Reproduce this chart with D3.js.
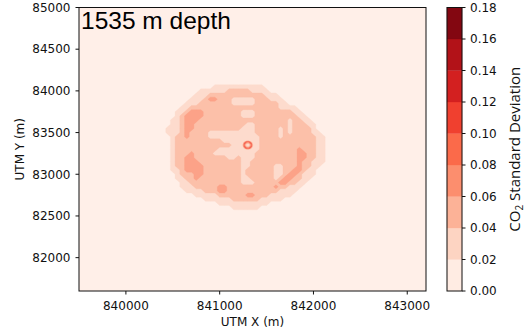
<!DOCTYPE html>
<html>
<head>
<meta charset="utf-8">
<script src="https://cdn.jsdelivr.net/npm/d3@7"></script>
<style>
  body { margin: 0; background: #fff; }
  svg { display: block; }
</style>
</head>
<body>
<svg id="chart" width="526" height="330"></svg>
<script>
// ---- data ---------------------------------------------------------------
const titleText = "1535 m depth";
const xLabel = "UTM X (m)";
const yLabel = "UTM Y (m)";
const xDomain = [839500, 843200];
const yDomain = [81600, 85000];
const xTicks = [840000, 841000, 842000, 843000];
const yTicks = [82000, 82500, 83000, 83500, 84000, 84500, 85000];
const levels = [0, 0.02, 0.04, 0.06, 0.08, 0.10, 0.12, 0.14, 0.16, 0.18];

// CO2 standard deviation on a 50 m grid; each digit is the value in hundredths.
// Rows run north to south starting at plumeOrigin (x of first column, y of first row).
const gridStep = 50;
const backgroundStd = 0.01;
const plumeOrigin = [840400, 84100];
const plumeRows = [
  "1111111111111111111111111111111111111",
  "1111111111133333333333111111111111111",
  "1111111133333355555333311111111111111",
  "1111111333555555555555333111111111111",
  "1111113335775553333355533311111111111",
  "1111133355555553333355555331111111111",
  "1111335555555555555555555333311111111",
  "1113357775555555533355555555331111111",
  "1113577775555555533355555555533111111",
  "1133577755555555555555555553553311111",
  "1133577555555555553355555553555331111",
  "1333577555555555533355555353555531111",
  "1333575555333333333355555353555533111",
  "1135575555333333333335555355555553311",
  "1135555555555333333335555555555553311",
  "1135555555555553333335555555555553311",
  "1135555555553333333335555555575553311",
  "1135557555533333333355555555577553311",
  "1135577555555533533355555555577553311",
  "1135577755555555533555555555575533311",
  "1135577775555555533555553355575533111",
  "1133577775555555535555553355775331111",
  "1113555775555555535555553357753331111",
  "1113355755555555533555553577553311111",
  "1111335555555555533355555775533111111",
  "1111333555557755555555557553331111111",
  "1111133335557755555555555333311111111",
  "1111111333335555557755533333111111111",
  "1111111113333335555553333311111111111",
  "1111111111113333333333311111111111111",
  "1111111111111113333331111111111111111",
  "1111111111111111111111111111111111111"
];

// Finer 10 m sampling around the injection well (values in hundredths).
const wellCenter = [841300, 83350];
const wellStep = 10;
const wellGrid = [
  [3,3,3,3,3,3,3,3,3,3,3,3,3],
  [3,3,3,4,4,6,6,6,4,4,3,3,3],
  [3,3,4,6,11,11,11,11,11,6,4,3,3],
  [3,4,6,11,11,8,8,8,11,11,6,4,3],
  [3,4,11,11,8,5,5,5,8,11,11,4,3],
  [3,6,11,8,5,3,3,3,5,8,11,6,3],
  [3,6,11,8,5,3,3,3,5,8,11,6,3],
  [3,6,11,8,5,3,3,3,5,8,11,6,3],
  [3,4,11,11,8,5,5,5,8,11,11,4,3],
  [3,4,6,11,11,8,8,8,11,11,6,4,3],
  [3,3,4,6,11,11,11,11,11,6,4,3,3],
  [3,3,3,4,4,6,6,6,4,4,3,3,3],
  [3,3,3,3,3,3,3,3,3,3,3,3,3]
];

// matplotlib "Reds" colour map stops
const redsStops = ["#fff5f0","#fee0d2","#fcbba1","#fc9272","#fb6a4a","#ef3b2c","#cb181d","#a50f15","#67000d"];
const fieldAlpha = 0.82;

// ---- layout ---------------------------------------------------------------
const plot = { left: 79, right: 426, top: 7.5, bottom: 291 };
const cbar = { left: 447, right: 462 };

const svg = d3.select("#chart");
const x = d3.scaleLinear().domain(xDomain).range([plot.left, plot.right]);
const y = d3.scaleLinear().domain(yDomain).range([plot.bottom, plot.top]);
const cy = d3.scaleLinear().domain([levels[0], levels[levels.length - 1]]).range([plot.bottom, plot.top]);

const redsInterp = d3.piecewise(d3.interpolateRgb, redsStops);
const nBands = levels.length - 1;
const bandColor = i => redsInterp((i + 0.5) / nBands);

// ---- field grid -----------------------------------------------------------
const nx = Math.round((xDomain[1] - xDomain[0]) / gridStep) + 1;
const ny = Math.round((yDomain[1] - yDomain[0]) / gridStep) + 1;
const field = new Array(nx * ny).fill(backgroundStd);
const colOff = Math.round((plumeOrigin[0] - xDomain[0]) / gridStep);
const rowOff = Math.round((yDomain[1] - plumeOrigin[1]) / gridStep);
plumeRows.forEach((row, r) => {
  for (let c = 0; c < row.length; c++) {
    field[(r + rowOff) * nx + c + colOff] = +row[c] * 0.01;
  }
});

const fieldProj = d3.geoTransform({
  point(gx, gy) {
    this.stream.point(x(xDomain[0] + (gx - 0.5) * gridStep), y(yDomain[1] - (gy - 0.5) * gridStep));
  }
});
const fieldPath = d3.geoPath(fieldProj);

const fieldContours = d3.contours()
  .size([nx, ny])
  .thresholds(levels.slice(0, -1))(field);

svg.append("defs").append("clipPath").attr("id", "plotClip")
  .append("rect")
  .attr("x", plot.left).attr("y", plot.top)
  .attr("width", plot.right - plot.left).attr("height", plot.bottom - plot.top);

const gPlot = svg.append("g")
  .attr("clip-path", "url(#plotClip)")
  .attr("opacity", fieldAlpha);
gPlot.selectAll("path.field")
  .data(fieldContours)
  .join("path")
  .attr("class", "field")
  .attr("d", fieldPath)
  .attr("fill", d => bandColor(levels.indexOf(d.value)))
  .attr("stroke", d => bandColor(levels.indexOf(d.value)))
  .attr("stroke-width", 0.3);

// ---- well detail ----------------------------------------------------------
const wn = wellGrid.length;
const wHalf = (wn - 1) / 2;
const wellValues = wellGrid.flat().map(v => v * 0.01);
const wellProj = d3.geoTransform({
  point(gx, gy) {
    this.stream.point(
      x(wellCenter[0] + (gx - 0.5 - wHalf) * wellStep),
      y(wellCenter[1] - (gy - 0.5 - wHalf) * wellStep));
  }
});
const wellLevels = levels.slice(2, -1);
const wellContours = d3.contours().size([wn, wn]).thresholds(wellLevels)(wellValues)
  .filter(d => d.coordinates.length);
gPlot.selectAll("path.well")
  .data(wellContours)
  .join("path")
  .attr("class", "well")
  .attr("d", d3.geoPath(wellProj))
  .attr("fill", d => bandColor(levels.indexOf(d.value)));

// ---- frame & axes ---------------------------------------------------------
svg.append("rect")
  .attr("x", plot.left).attr("y", plot.top)
  .attr("width", plot.right - plot.left).attr("height", plot.bottom - plot.top)
  .attr("fill", "none").attr("stroke", "#111").attr("stroke-width", 1);

const tickFont = "'DejaVu Sans', sans-serif";

const xAxis = svg.append("g");
xAxis.selectAll("line").data(xTicks).join("line")
  .attr("x1", d => x(d)).attr("x2", d => x(d))
  .attr("y1", plot.bottom).attr("y2", plot.bottom + 3.5)
  .attr("stroke", "#111");
xAxis.selectAll("text").data(xTicks).join("text")
  .attr("x", d => x(d)).attr("y", 309.5)
  .attr("text-anchor", "middle")
  .attr("font-family", tickFont).attr("font-size", 12).attr("fill", "#111")
  .text(d => d3.format("d")(d));

const yAxis = svg.append("g");
yAxis.selectAll("line").data(yTicks).join("line")
  .attr("x1", plot.left - 3.5).attr("x2", plot.left)
  .attr("y1", d => y(d)).attr("y2", d => y(d))
  .attr("stroke", "#111");
yAxis.selectAll("text").data(yTicks).join("text")
  .attr("x", 70.5).attr("y", d => y(d) + 4.3)
  .attr("text-anchor", "end")
  .attr("font-family", tickFont).attr("font-size", 12).attr("fill", "#111")
  .text(d => d3.format("d")(d));

svg.append("text")
  .attr("x", (plot.left + plot.right) / 2).attr("y", 325.5)
  .attr("text-anchor", "middle")
  .attr("font-family", tickFont).attr("font-size", 12).attr("fill", "#111")
  .text(xLabel);

svg.append("text")
  .attr("transform", `translate(24,${(plot.top + plot.bottom) / 2}) rotate(-90)`)
  .attr("text-anchor", "middle")
  .attr("font-family", tickFont).attr("font-size", 12).attr("fill", "#111")
  .text(yLabel);

svg.append("text")
  .attr("x", 81).attr("y", 29)
  .attr("font-family", "'Liberation Sans', Arial, sans-serif")
  .attr("font-size", 24.5).attr("fill", "#000")
  .text(titleText);

// ---- colour bar -----------------------------------------------------------
const gBar = svg.append("g");
gBar.selectAll("rect.band")
  .data(d3.range(nBands))
  .join("rect")
  .attr("class", "band")
  .attr("x", cbar.left)
  .attr("y", i => cy(levels[i + 1]))
  .attr("width", cbar.right - cbar.left)
  .attr("height", i => cy(levels[i]) - cy(levels[i + 1]))
  .attr("fill", i => bandColor(i))
  .attr("stroke", i => bandColor(i))
  .attr("stroke-width", 0.3);
gBar.append("rect")
  .attr("x", cbar.left).attr("y", plot.top)
  .attr("width", cbar.right - cbar.left).attr("height", plot.bottom - plot.top)
  .attr("fill", "none").attr("stroke", "#111").attr("stroke-width", 1);
gBar.selectAll("line").data(levels).join("line")
  .attr("x1", cbar.right).attr("x2", cbar.right + 3.5)
  .attr("y1", d => cy(d)).attr("y2", d => cy(d))
  .attr("stroke", "#111");
gBar.selectAll("text.tick").data(levels).join("text")
  .attr("class", "tick")
  .attr("x", 470).attr("y", d => cy(d) + 4.3)
  .attr("font-family", tickFont).attr("font-size", 12).attr("fill", "#111")
  .text(d => d3.format(".2f")(d));

const cbLabel = svg.append("text")
  .attr("transform", `translate(519.5,${(plot.top + plot.bottom) / 2}) rotate(-90)`)
  .attr("text-anchor", "middle")
  .attr("font-family", "'Open Sans', sans-serif").attr("font-size", 15).attr("fill", "#111");
cbLabel.append("tspan").text("CO");
cbLabel.append("tspan").attr("font-size", 10).attr("dy", 3.5).text("2");
cbLabel.append("tspan").attr("dy", -3.5).text(" Standard Deviation");
</script>
</body>
</html>
